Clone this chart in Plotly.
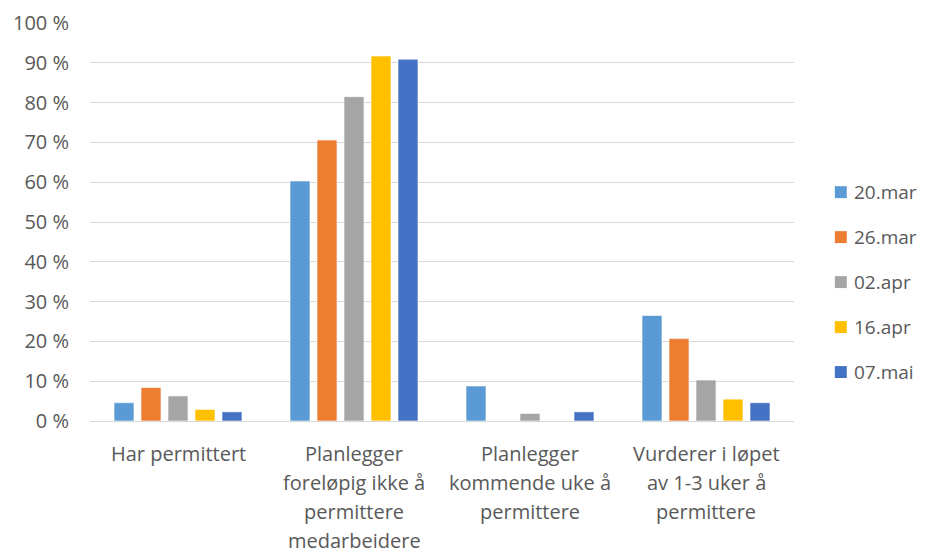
import plotly.graph_objects as go

categories = ["Har permittert", "Planlegger foreløpig", "Planlegger kommende", "Vurderer i løpet"]
category_lines = [
    ["Har permittert"],
    ["Planlegger", "foreløpig ikke å", "permittere", "medarbeidere"],
    ["Planlegger", "kommende uke å", "permittere"],
    ["Vurderer i løpet", "av 1-3 uker å", "permittere"],
]
series_names = ["20.mar", "26.mar", "02.apr", "16.apr", "07.mai"]
v_20mar = [4.6, 60.3, 8.8, 26.5]
v_26mar = [8.4, 70.6, 0.0, 20.7]
v_02apr = [6.3, 81.5, 1.9, 10.3]
v_16apr = [2.9, 91.7, 0.0, 5.5]
v_07mai = [2.3, 90.9, 2.3, 4.6]
series_values = [v_20mar, v_26mar, v_02apr, v_16apr, v_07mai]
colors = ["#5B9BD5", "#ED7D31", "#A5A5A5", "#FFC000", "#4472C4"]
tick_vals = list(range(0, 101, 10))
tick_text = [f"{v} %" for v in tick_vals]

FONT = "'Open Sans', sans-serif"
INK = "#595959"

fig = go.Figure()
for i, (name, vals) in enumerate(zip(series_names, series_values)):
    fig.add_trace(
        go.Bar(
            x=categories,
            y=vals,
            name=name,
            showlegend=False,
            marker=dict(color=colors[i], line=dict(color="white", width=0.6)),
        )
    )

# multi-line category labels under each group
annotations = []
for cat, lines in zip(categories, category_lines):
    for j, line in enumerate(lines):
        annotations.append(
            dict(
                x=cat, xref="x", y=0, yref="y",
                text=line, showarrow=False,
                yanchor="middle",
                yshift=-32 - 29 * j,
                font=dict(family=FONT, size=20, color=INK),
            )
        )

# legend drawn by hand (plotly's own legend gets clipped at the right edge)
shapes = []
for i, (name, col) in enumerate(zip(series_names, colors)):
    yc = 0.575 - i * 0.113
    shapes.append(
        dict(
            type="rect", xref="paper", yref="paper",
            x0=1.058, x1=1.075, y0=yc - 0.015, y1=yc + 0.015,
            fillcolor=col, line=dict(width=0),
        )
    )
    annotations.append(
        dict(
            x=1.083, xref="paper", y=yc, yref="paper",
            xanchor="left", yanchor="middle",
            text=name, showarrow=False,
            font=dict(family=FONT, size=19, color=INK),
        )
    )

# page body has an 8px margin, so the figure is sized and placed to compensate
fig.update_layout(
    width=910,
    height=540,
    paper_bgcolor="white",
    plot_bgcolor="white",
    barmode="group",
    bargap=0.233,
    bargroupgap=0.26,
    margin=dict(l=82, r=124, t=15, b=127, autoexpand=False),
    font=dict(family=FONT, size=20, color=INK),
    showlegend=False,
    xaxis=dict(showticklabels=False, showline=False, showgrid=False, ticks=""),
    yaxis=dict(
        range=[0, 100],
        tickvals=tick_vals,
        ticktext=tick_text,
        showgrid=True,
        gridcolor="#D9D9D9",
        gridwidth=1,
        zeroline=True,
        zerolinecolor="#D9D9D9",
        zerolinewidth=1,
        ticks="",
        automargin=False,
        ticklabelstandoff=20,
        tickfont=dict(family=FONT, size=20, color=INK),
    ),
    shapes=shapes,
    annotations=annotations,
)

fig.write_html("out.html")
